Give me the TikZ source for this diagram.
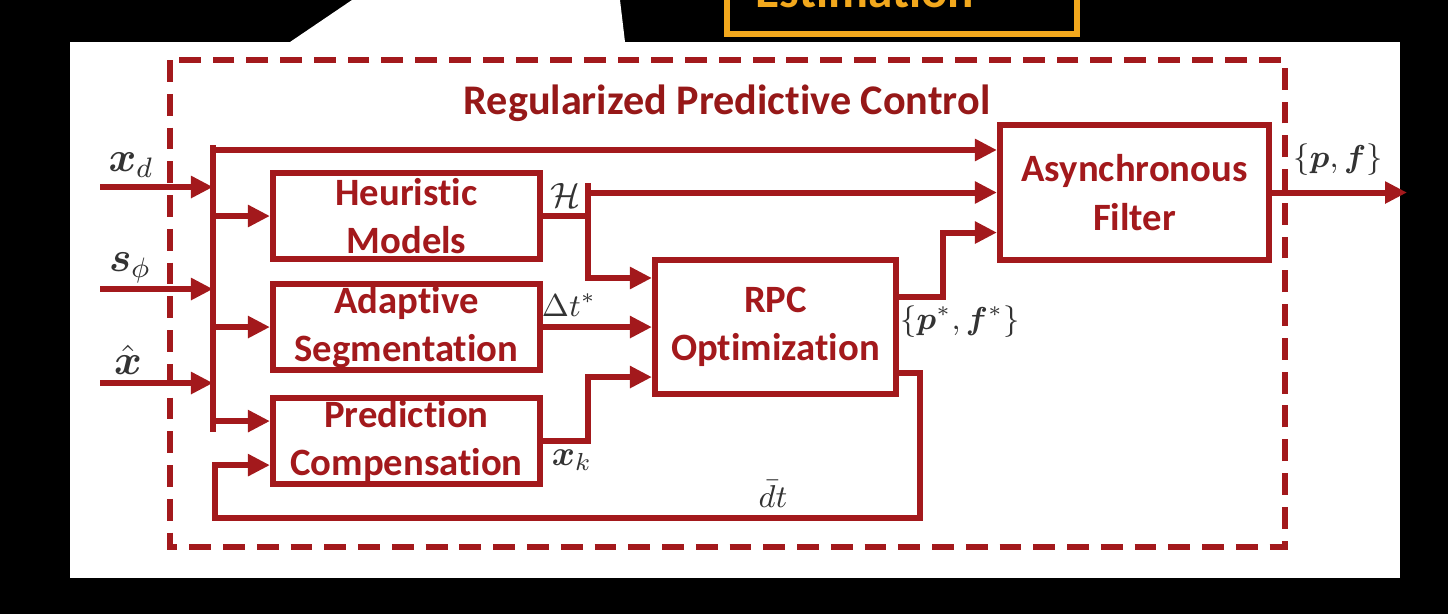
\documentclass[tikz,border=0pt]{standalone}
\usepackage{amsmath}
\usepackage{amssymb}
\usepackage{fontspec}
\setsansfont{Carlito}[Ligatures={NoCommon,NoRequired,NoContextual},Contextuals=NoAlternate,RawFeature={-liga;-clig;-calt;-dlig}]
\usepackage{xcolor}
\usepackage{tikz}
\usetikzlibrary{positioning,arrows.meta}
\definecolor{rpcred}{HTML}{A3191C}
\definecolor{titlered}{HTML}{961818}
\definecolor{estorange}{HTML}{F2A81D}

\begin{document}
\begin{tikzpicture}[x=0.01cm, y=-0.01cm,
  blk/.style={draw=rpcred, line width=1.7pt, text=rpcred, align=center, inner sep=0pt,
              font=\sffamily\bfseries\fontsize{11}{13.8}\selectfont,
              minimum width=2.67cm, minimum height=0.86cm},
  wire/.style={draw=rpcred, line width=1.7pt},
  arrow/.style={wire, -{Triangle[length=2.2mm,width=2.1mm]}},
  lbl/.style={text=black!80, inner sep=1pt},
  node distance=1.9mm,
]
\useasboundingbox (0,0) rectangle (1448,614);
\clip (0,0) rectangle (1448,614);
% backdrop
\fill[black] (0,0) rectangle (1448,614);
\fill[white] (70,42) rectangle (1400,578);
\fill[white] (352,0) -- (620,0) -- (625,42) -- (290,42) -- cycle;
\draw[estorange, line width=1.7pt] (727,-20) rectangle (1077,34);
\node[text=estorange, font=\sffamily\bfseries\fontsize{14}{16}\selectfont, anchor=base]
  (est) at (865,7) {Estimation};

% frame
\draw[rpcred, line width=1.7pt, dash pattern=on 6.2pt off 3.4pt] (170,60) rectangle (1285,547);
\node[text=titlered, font=\sffamily\bfseries\fontsize{12}{14}\selectfont] (title) at (727,103)
  {Regularized Predictive Control};

% blocks
\node[blk] (heur) at (406.5,216) {Heuristic\\Models};
\node[blk, below=of heur]     (adapt) {Adaptive\\Segmentation};
\node[blk, below=2.2mm of adapt] (pred) {Prediction\\Compensation};
\node[blk, minimum width=2.41cm, minimum height=1.34cm] (rpc) at (775.5,327) {RPC\\Optimization};
\node[blk, minimum width=2.69cm, minimum height=1.35cm] (async) at (1134.5,192.5) {Asynchronous\\Filter};

% ports
\coordinate (bustop) at (213,145);
\coordinate (busbot) at (213,432);
\coordinate (hx) at (588,183);
\coordinate (af1) at ([yshift=4.25mm]async.west);
\coordinate (af2) at (async.west);
\coordinate (af3) at ([yshift=-4mm]async.west);
\coordinate (rpc1) at ([yshift=4.9mm]rpc.west);
\coordinate (rpc3) at ([yshift=-5mm]rpc.west);
\coordinate (pin) at ([yshift=2mm]pred.west);
\coordinate (pfb) at ([yshift=-2.4mm]pred.west);
\coordinate (fbr) at (920,518);
\coordinate (fbl) at (215,518);
\coordinate (out) at (1407,0);

% inputs and bus
\draw[wire] (bustop) -- (busbot);
\foreach \y/\n in {187/in1,289/in2,383/in3}{
  \coordinate (\n) at (100,\y);
  \draw[arrow] (\n) -- (\n -| bustop);
}
\draw[arrow] (bustop |- af1) -- (af1);
\draw[arrow] (bustop |- heur.west) -- (heur.west);
\draw[arrow] (bustop |- adapt.west) -- (adapt.west);
\draw[arrow] (bustop |- pin) -- (pin);

% block outputs
\draw[wire] (heur.east) -- (heur.east -| hx);
\draw[arrow] (hx) |- (rpc1);
\draw[arrow] (hx |- af2) -- (af2);
\draw[arrow] (adapt.east) -- (adapt.east -| rpc.west);
\draw[arrow] (pred.east) -| (hx |- rpc3) -- (rpc3);
\draw[arrow] ([yshift=3mm]rpc.east) -- ++(44,0) |- (af3);
\draw[arrow] ([yshift=-4.6mm]rpc.east) -| (fbr) -- (fbl) |- (pfb);
\draw[arrow] (async.east) -- (async.east -| out);

% labels
\node[lbl, font=\large] (lxd) at (131,165) {$\boldsymbol{x}_d$};
\node[lbl, font=\large] (lsp) at (130,268) {$\boldsymbol{s}_\phi$};
\node[lbl, font=\large] (lxh) at (128,360) {$\hat{\boldsymbol{x}}$};
\node[lbl] (lh)  at (566,195) {$\mathcal{H}$};
\node[lbl, font=\small] (ldt) at (569,305) {$\Delta t^*$};
\node[lbl] (lxk) at (572,460) {$\boldsymbol{x}_k$};
\node[lbl, font=\small] (lpf) at (960,322) {$\{\boldsymbol{p}^*,\boldsymbol{f}^*\}$};
\node[lbl, font=\small] (lbd) at (773,494) {$\bar{d}t$};
\node[lbl, font=\small] (lout) at (1338,160) {$\{\boldsymbol{p},\boldsymbol{f}\}$};
\end{tikzpicture}
\end{document}
